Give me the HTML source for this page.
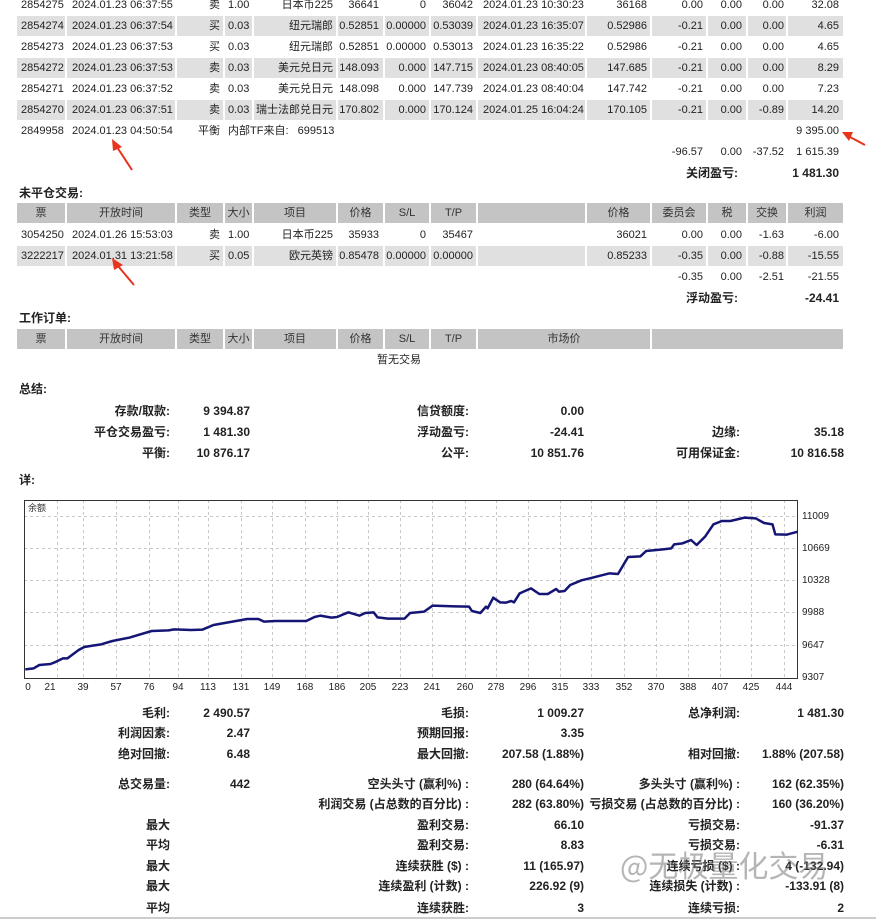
<!DOCTYPE html>
<html><head><meta charset="utf-8"><style>
*{margin:0;padding:0;box-sizing:border-box}
body{width:876px;height:921px;background:#fff;position:relative;overflow:hidden;font-family:"Liberation Sans","Noto Sans CJK SC",sans-serif;font-size:12px;color:#222}
.r{position:absolute;left:0;width:876px;height:20px;line-height:20px;font-size:11px}
.bg{position:absolute;left:17px;width:826px;height:20px}
.g{background:#e0e0e0}.h{background:#c4c4c4}
.r i{font-style:normal;position:absolute;top:0;white-space:nowrap}
.c1{left:21px}.c2{left:72px}.c3{right:656px}.c4{left:228px}.c5{right:543px}.c6{right:497px}.c7{right:450px}.c8{right:403px}.c9{left:483px}.c10{right:229px}.c11{right:173px}.c12{right:134px}.c13{right:92px}.c14{right:37px}
.hc{position:absolute;top:0;text-align:center;font-style:normal}
.sep{position:absolute;width:2px;background:#fff}
.t{position:absolute;font-weight:bold;white-space:nowrap;line-height:16px}
.s{position:absolute;font-weight:bold;white-space:nowrap;line-height:16px;font-size:12px}
.L1{right:706px}.V1{right:626px}.L2{right:407px}.V2{right:292px}.L3{right:136px}.V3{right:32px}
</style></head><body>

<div class="bg g" style="top:16px"></div>
<div class="bg g" style="top:58px"></div>
<div class="bg g" style="top:100px"></div>
<div style="position:absolute;top:-5px;left:0;width:876px;height:126px">
<div class="sep" style="left:65px;height:126px"></div><div class="sep" style="left:175px;height:126px"></div><div class="sep" style="left:223px;height:126px"></div><div class="sep" style="left:252px;height:126px"></div><div class="sep" style="left:336px;height:126px"></div><div class="sep" style="left:383px;height:126px"></div><div class="sep" style="left:429px;height:126px"></div><div class="sep" style="left:476px;height:126px"></div><div class="sep" style="left:585px;height:126px"></div><div class="sep" style="left:650px;height:126px"></div><div class="sep" style="left:706px;height:126px"></div><div class="sep" style="left:746px;height:126px"></div><div class="sep" style="left:786px;height:126px"></div>
</div>
<div class="r" style="top:-5px"><i class="c1">2854275</i><i class="c2">2024.01.23 06:37:55</i><i class="c3">卖</i><i class="c4">1.00</i><i class="c5">日本币225</i><i class="c6">36641</i><i class="c7">0</i><i class="c8">36042</i><i class="c9">2024.01.23 10:30:23</i><i class="c10">36168</i><i class="c11">0.00</i><i class="c12">0.00</i><i class="c13">0.00</i><i class="c14">32.08</i></div>
<div class="r" style="top:16px"><i class="c1">2854274</i><i class="c2">2024.01.23 06:37:54</i><i class="c3">买</i><i class="c4">0.03</i><i class="c5">纽元瑞郎</i><i class="c6">0.52851</i><i class="c7">0.00000</i><i class="c8">0.53039</i><i class="c9">2024.01.23 16:35:07</i><i class="c10">0.52986</i><i class="c11">-0.21</i><i class="c12">0.00</i><i class="c13">0.00</i><i class="c14">4.65</i></div>
<div class="r" style="top:37px"><i class="c1">2854273</i><i class="c2">2024.01.23 06:37:53</i><i class="c3">买</i><i class="c4">0.03</i><i class="c5">纽元瑞郎</i><i class="c6">0.52851</i><i class="c7">0.00000</i><i class="c8">0.53013</i><i class="c9">2024.01.23 16:35:22</i><i class="c10">0.52986</i><i class="c11">-0.21</i><i class="c12">0.00</i><i class="c13">0.00</i><i class="c14">4.65</i></div>
<div class="r" style="top:58px"><i class="c1">2854272</i><i class="c2">2024.01.23 06:37:53</i><i class="c3">卖</i><i class="c4">0.03</i><i class="c5">美元兑日元</i><i class="c6">148.093</i><i class="c7">0.000</i><i class="c8">147.715</i><i class="c9">2024.01.23 08:40:05</i><i class="c10">147.685</i><i class="c11">-0.21</i><i class="c12">0.00</i><i class="c13">0.00</i><i class="c14">8.29</i></div>
<div class="r" style="top:79px"><i class="c1">2854271</i><i class="c2">2024.01.23 06:37:52</i><i class="c3">卖</i><i class="c4">0.03</i><i class="c5">美元兑日元</i><i class="c6">148.098</i><i class="c7">0.000</i><i class="c8">147.739</i><i class="c9">2024.01.23 08:40:04</i><i class="c10">147.742</i><i class="c11">-0.21</i><i class="c12">0.00</i><i class="c13">0.00</i><i class="c14">7.23</i></div>
<div class="r" style="top:100px"><i class="c1">2854270</i><i class="c2">2024.01.23 06:37:51</i><i class="c3">卖</i><i class="c4">0.03</i><i class="c5">瑞士法郎兑日元</i><i class="c6">170.802</i><i class="c7">0.000</i><i class="c8">170.124</i><i class="c9">2024.01.25 16:04:24</i><i class="c10">170.105</i><i class="c11">-0.21</i><i class="c12">0.00</i><i class="c13">-0.89</i><i class="c14">14.20</i></div>
<div class="r" style="top:121px"><i class="c1">2849958</i><i class="c2">2024.01.23 04:50:54</i><i class="c3">平衡</i><i class="c4">内部TF来自:&nbsp;&nbsp;&nbsp;699513</i><i class="c14">9 395.00</i></div>
<div class="r" style="top:142px"><i class="c11">-96.57</i><i class="c12">0.00</i><i class="c13">-37.52</i><i class="c14">1 615.39</i></div>
<div class="r" style="top:163px;font-weight:bold;font-size:12px"><i style="right:138px">关闭盈亏:</i><i class="c14">1 481.30</i></div>

<div class="t" style="left:19px;top:185px">未平仓交易:</div>
<div class="bg h" style="top:203px"></div>
<div class="bg g" style="top:246px"></div>
<div style="position:absolute;top:203px;left:0;width:876px;height:64px">
<div class="sep" style="left:65px;height:64px"></div><div class="sep" style="left:175px;height:64px"></div><div class="sep" style="left:223px;height:64px"></div><div class="sep" style="left:252px;height:64px"></div><div class="sep" style="left:336px;height:64px"></div><div class="sep" style="left:383px;height:64px"></div><div class="sep" style="left:429px;height:64px"></div><div class="sep" style="left:476px;height:64px"></div><div class="sep" style="left:585px;height:64px"></div><div class="sep" style="left:650px;height:64px"></div><div class="sep" style="left:706px;height:64px"></div><div class="sep" style="left:746px;height:64px"></div><div class="sep" style="left:786px;height:64px"></div>
</div>
<div class="r" style="top:203px;color:#333"><i class="hc" style="left:17px;width:48px">票</i><i class="hc" style="left:67px;width:108px">开放时间</i><i class="hc" style="left:177px;width:46px">类型</i><i class="hc" style="left:225px;width:27px">大小</i><i class="hc" style="left:254px;width:82px">项目</i><i class="hc" style="left:338px;width:45px">价格</i><i class="hc" style="left:385px;width:44px">S/L</i><i class="hc" style="left:431px;width:45px">T/P</i><i class="hc" style="left:587px;width:63px">价格</i><i class="hc" style="left:652px;width:54px">委员会</i><i class="hc" style="left:708px;width:38px">税</i><i class="hc" style="left:748px;width:38px">交换</i><i class="hc" style="left:788px;width:55px">利润</i></div>
<div class="r" style="top:225px"><i class="c1">3054250</i><i class="c2">2024.01.26 15:53:03</i><i class="c3">卖</i><i class="c4">1.00</i><i class="c5">日本币225</i><i class="c6">35933</i><i class="c7">0</i><i class="c8">35467</i><i class="c10">36021</i><i class="c11">0.00</i><i class="c12">0.00</i><i class="c13">-1.63</i><i class="c14">-6.00</i></div>
<div class="r" style="top:246px"><i class="c1">3222217</i><i class="c2">2024.01.31 13:21:58</i><i class="c3">买</i><i class="c4">0.05</i><i class="c5">欧元英镑</i><i class="c6">0.85478</i><i class="c7">0.00000</i><i class="c8">0.00000</i><i class="c10">0.85233</i><i class="c11">-0.35</i><i class="c12">0.00</i><i class="c13">-0.88</i><i class="c14">-15.55</i></div>
<div class="r" style="top:267px"><i class="c11">-0.35</i><i class="c12">0.00</i><i class="c13">-2.51</i><i class="c14">-21.55</i></div>
<div class="r" style="top:288px;font-weight:bold;font-size:12px"><i style="right:138px">浮动盈亏:</i><i class="c14">-24.41</i></div>

<div class="t" style="left:19px;top:310px">工作订单:</div>
<div class="bg h" style="top:329px"></div>
<div style="position:absolute;top:329px;left:0;width:876px;height:20px">
<div class="sep" style="left:65px;height:20px"></div><div class="sep" style="left:175px;height:20px"></div><div class="sep" style="left:223px;height:20px"></div><div class="sep" style="left:252px;height:20px"></div><div class="sep" style="left:336px;height:20px"></div><div class="sep" style="left:383px;height:20px"></div><div class="sep" style="left:429px;height:20px"></div><div class="sep" style="left:476px;height:20px"></div><div class="sep" style="left:650px;height:20px"></div>
</div>
<div class="r" style="top:329px;color:#333"><i class="hc" style="left:17px;width:48px">票</i><i class="hc" style="left:67px;width:108px">开放时间</i><i class="hc" style="left:177px;width:46px">类型</i><i class="hc" style="left:225px;width:27px">大小</i><i class="hc" style="left:254px;width:82px">项目</i><i class="hc" style="left:338px;width:45px">价格</i><i class="hc" style="left:385px;width:44px">S/L</i><i class="hc" style="left:431px;width:45px">T/P</i><i class="hc" style="left:478px;width:172px">市场价</i></div>
<div class="r" style="top:350px"><i style="left:377px">暂无交易</i></div>

<div class="t" style="left:19px;top:381px">总结:</div>
<div class="s L1" style="top:403px">存款/取款:</div><div class="s V1" style="top:403px">9 394.87</div>
<div class="s L2" style="top:403px">信贷额度:</div><div class="s V2" style="top:403px">0.00</div>
<div class="s L1" style="top:424px">平仓交易盈亏:</div><div class="s V1" style="top:424px">1 481.30</div>
<div class="s L2" style="top:424px">浮动盈亏:</div><div class="s V2" style="top:424px">-24.41</div>
<div class="s L3" style="top:424px">边缘:</div><div class="s V3" style="top:424px">35.18</div>
<div class="s L1" style="top:445px">平衡:</div><div class="s V1" style="top:445px">10 876.17</div>
<div class="s L2" style="top:445px">公平:</div><div class="s V2" style="top:445px">10 851.76</div>
<div class="s L3" style="top:445px">可用保证金:</div><div class="s V3" style="top:445px">10 816.58</div>
<div class="t" style="left:19px;top:472px">详:</div>

<svg style="position:absolute;left:0;top:0" width="876" height="921">
<g stroke="#c8c8c8" stroke-dasharray="3,3" stroke-width="1">
<line x1="24" x2="797" y1="516.5" y2="516.5"/><line x1="24" x2="797" y1="548.5" y2="548.5"/><line x1="24" x2="797" y1="580.5" y2="580.5"/><line x1="24" x2="797" y1="612.5" y2="612.5"/><line x1="24" x2="797" y1="645.5" y2="645.5"/>
<line y1="500" y2="678" x1="57.5" x2="57.5"/><line y1="500" y2="678" x1="83.5" x2="83.5"/><line y1="500" y2="678" x1="116.5" x2="116.5"/><line y1="500" y2="678" x1="149.5" x2="149.5"/><line y1="500" y2="678" x1="178.5" x2="178.5"/><line y1="500" y2="678" x1="208.5" x2="208.5"/><line y1="500" y2="678" x1="241.5" x2="241.5"/><line y1="500" y2="678" x1="272.5" x2="272.5"/><line y1="500" y2="678" x1="305.5" x2="305.5"/><line y1="500" y2="678" x1="337.5" x2="337.5"/><line y1="500" y2="678" x1="368.5" x2="368.5"/><line y1="500" y2="678" x1="400.5" x2="400.5"/><line y1="500" y2="678" x1="432.5" x2="432.5"/><line y1="500" y2="678" x1="465.5" x2="465.5"/><line y1="500" y2="678" x1="496.5" x2="496.5"/><line y1="500" y2="678" x1="528.5" x2="528.5"/><line y1="500" y2="678" x1="560.5" x2="560.5"/><line y1="500" y2="678" x1="591.5" x2="591.5"/><line y1="500" y2="678" x1="624.5" x2="624.5"/><line y1="500" y2="678" x1="656.5" x2="656.5"/><line y1="500" y2="678" x1="688.5" x2="688.5"/><line y1="500" y2="678" x1="720.5" x2="720.5"/><line y1="500" y2="678" x1="751.5" x2="751.5"/><line y1="500" y2="678" x1="784.5" x2="784.5"/>
</g>
<rect x="24.5" y="500.5" width="773" height="178" fill="none" stroke="#333" stroke-width="1"/>
<text x="28" y="511" font-size="9" fill="#333" font-family="Noto Sans CJK SC,sans-serif">余额</text>
<g transform="translate(0,495) scale(0.5618,0.33333)">
<polyline fill="none" stroke="#151575" stroke-width="2.5" vector-effect="non-scaling-stroke" stroke-linejoin="round" points="45,523 60,520 70,510 90,507 100,500 112,490 120,490 140,465 150,456 165,452 180,448 200,438 230,428 270,408 300,406 310,403 340,405 360,404 380,390 440,372 460,372 470,380 490,378 545,378 560,366 570,362 590,368 600,366 620,352 640,362 650,354 665,352 672,367 690,371 720,371 730,354 755,350 770,332 810,334 835,335 840,348 855,354 865,335 868,340 878,308 890,322 900,323 910,318 915,322 925,295 945,280 960,297 975,297 990,282 995,290 1005,288 1015,270 1035,256 1050,250 1085,235 1100,237 1118,186 1140,184 1150,168 1180,163 1195,160 1200,148 1215,145 1230,135 1240,150 1255,125 1270,88 1285,78 1300,78 1315,72 1325,68 1345,70 1360,84 1375,88 1380,118 1400,119 1420,110"/>
</g>
<g font-size="10" fill="#222" font-family="Liberation Sans,sans-serif">
<text x="802" y="519">11009</text><text x="802" y="551">10669</text><text x="802" y="583">10328</text><text x="802" y="615">9988</text><text x="802" y="648">9647</text><text x="802" y="680">9307</text>
<g text-anchor="middle"><text x="28" y="690">0</text><text x="50" y="690">21</text><text x="83" y="690">39</text><text x="116" y="690">57</text><text x="149" y="690">76</text><text x="178" y="690">94</text><text x="208" y="690">113</text><text x="241" y="690">131</text><text x="272" y="690">149</text><text x="305" y="690">168</text><text x="337" y="690">186</text><text x="368" y="690">205</text><text x="400" y="690">223</text><text x="432" y="690">241</text><text x="465" y="690">260</text><text x="496" y="690">278</text><text x="528" y="690">296</text><text x="560" y="690">315</text><text x="591" y="690">333</text><text x="624" y="690">352</text><text x="656" y="690">370</text><text x="688" y="690">388</text><text x="720" y="690">407</text><text x="751" y="690">425</text><text x="784" y="690">444</text></g>
</g>
<g fill="#e8341c" stroke="#e8341c">
<line x1="132" y1="170" x2="117" y2="147" stroke-width="2"/><polygon points="112,139 122,147 113,151" stroke="none"/>
<line x1="134" y1="285" x2="118" y2="266" stroke-width="2"/><polygon points="112,258 123,265 114,270" stroke="none"/>
<line x1="865" y1="145" x2="850" y2="137" stroke-width="2"/><polygon points="842,132 853,132 849,141" stroke="none"/>
</g>
<line x1="0" y1="918" x2="876" y2="918" stroke="#ccc" stroke-width="2"/>
</svg>

<div class="s L1" style="top:705px">毛利:</div><div class="s V1" style="top:705px">2 490.57</div>
<div class="s L2" style="top:705px">毛损:</div><div class="s V2" style="top:705px">1 009.27</div>
<div class="s L3" style="top:705px">总净利润:</div><div class="s V3" style="top:705px">1 481.30</div>
<div class="s L1" style="top:725px">利润因素:</div><div class="s V1" style="top:725px">2.47</div>
<div class="s L2" style="top:725px">预期回报:</div><div class="s V2" style="top:725px">3.35</div>
<div class="s L1" style="top:746px">绝对回撤:</div><div class="s V1" style="top:746px">6.48</div>
<div class="s L2" style="top:746px">最大回撤:</div><div class="s V2" style="top:746px">207.58 (1.88%)</div>
<div class="s L3" style="top:746px">相对回撤:</div><div class="s V3" style="top:746px">1.88% (207.58)</div>
<div class="s L1" style="top:776px">总交易量:</div><div class="s V1" style="top:776px">442</div>
<div class="s L2" style="top:776px">空头头寸 (赢利%) :</div><div class="s V2" style="top:776px">280 (64.64%)</div>
<div class="s L3" style="top:776px">多头头寸 (赢利%) :</div><div class="s V3" style="top:776px">162 (62.35%)</div>
<div class="s L2" style="top:796px">利润交易 (占总数的百分比) :</div><div class="s V2" style="top:796px">282 (63.80%)</div>
<div class="s L3" style="top:796px">亏损交易 (占总数的百分比) :</div><div class="s V3" style="top:796px">160 (36.20%)</div>
<div class="s L1" style="top:817px">最大</div><div class="s L2" style="top:817px">盈利交易:</div><div class="s V2" style="top:817px">66.10</div><div class="s L3" style="top:817px">亏损交易:</div><div class="s V3" style="top:817px">-91.37</div>
<div class="s L1" style="top:837px">平均</div><div class="s L2" style="top:837px">盈利交易:</div><div class="s V2" style="top:837px">8.83</div><div class="s L3" style="top:837px">亏损交易:</div><div class="s V3" style="top:837px">-6.31</div>
<div class="s L1" style="top:858px">最大</div><div class="s L2" style="top:858px">连续获胜 ($) :</div><div class="s V2" style="top:858px">11 (165.97)</div><div class="s L3" style="top:858px">连续亏损 ($) :</div><div class="s V3" style="top:858px">4 (-132.94)</div>
<div class="s L1" style="top:878px">最大</div><div class="s L2" style="top:878px">连续盈利 (计数) :</div><div class="s V2" style="top:878px">226.92 (9)</div><div class="s L3" style="top:878px">连续损失 (计数) :</div><div class="s V3" style="top:878px">-133.91 (8)</div>
<div class="s L1" style="top:900px">平均</div><div class="s L2" style="top:900px">连续获胜:</div><div class="s V2" style="top:900px">3</div><div class="s L3" style="top:900px">连续亏损:</div><div class="s V3" style="top:900px">2</div>

<div style="position:absolute;left:620px;top:846px;font-size:30px;color:rgba(120,120,120,0.55);font-family:'Noto Sans CJK SC',sans-serif;white-space:nowrap;line-height:36px">@无极量化交易</div>
</body></html>
